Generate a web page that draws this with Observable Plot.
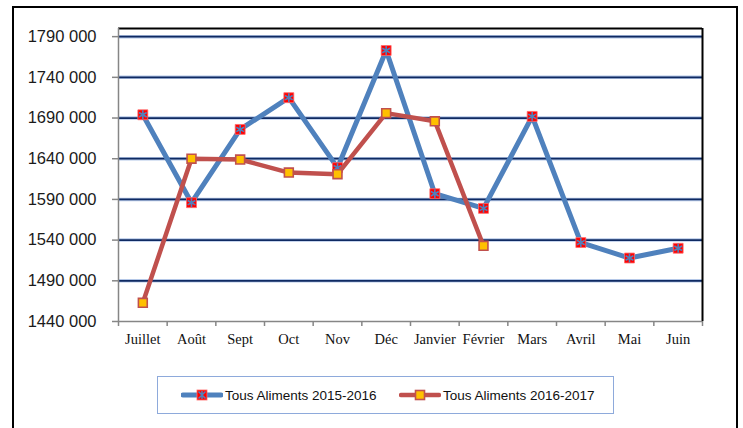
<!DOCTYPE html>
<html>
<head>
<meta charset="utf-8">
<script src="https://cdn.jsdelivr.net/npm/d3@7"></script>
<script src="https://cdn.jsdelivr.net/npm/@observablehq/plot@0.6"></script>
<style>
  html, body { margin: 0; padding: 0; background: #fff; }
  #wrap { position: relative; width: 743px; height: 428px; overflow: hidden; background: #fff; }
  #outer { position: absolute; left: 12px; top: 6px; width: 722px; height: 460px; border: 2px solid #000; box-sizing: content-box; pointer-events: none; }
  #chart { position: absolute; left: 0; top: 0; }
  #legend { position: absolute; left: 157px; top: 376px; width: 457px; height: 38px; border: 1px solid #8eaadb; box-sizing: border-box; font-family: "Liberation Sans", Arial, sans-serif; font-size: 13.5px; color: #111; }
  .item { position: absolute; top: 0; height: 36px; display: flex; align-items: center; }
  .item svg { display: block; }
  .item span { margin-left: 2px; white-space: nowrap; }
</style>
</head>
<body>
<div id="wrap">
  <div id="chart"></div>
  <div id="outer"></div>
  <div id="legend"></div>
</div>
<script>
// ---- data ----
const months = ["Juillet","Août","Sept","Oct","Nov","Déc","Janvier","Février","Mars","Avril","Mai","Juin"];
const series2015Name = "Tous Aliments 2015-2016";
const series2016Name = "Tous Aliments 2016-2017";
const values2015 = [1694000, 1586000, 1676000, 1715000, 1629000, 1773000, 1597000, 1579000, 1692000, 1537000, 1518000, 1530000];
const values2016 = [1463000, 1640000, 1639000, 1623000, 1621000, 1696000, 1686000, 1533000];
const yTicks = [1440000, 1490000, 1540000, 1590000, 1640000, 1690000, 1740000, 1790000];
const yTickLabels = ["1440 000", "1490 000", "1540 000", "1590 000", "1640 000", "1690 000", "1740 000", "1790 000"];
const yMin = 1440000, yMax = 1800000;

const data2015 = values2015.map((v, i) => ({month: months[i], value: v}));
const data2016 = values2016.map((v, i) => ({month: months[i], value: v}));
const gridTicks = yTicks.filter(t => t !== yMin);
const labelOf = v => yTickLabels[yTicks.indexOf(v)];

const W = 743, H = 428;
const mL = 118, mR = 41, mT = 28, mB = 107;
const step = (W - mL - mR) / months.length;

const blue = "#4f81bd", red = "#c0504d", grey = "#868686";

const plot = Plot.plot({
  width: W, height: H,
  marginLeft: mL, marginRight: mR, marginTop: mT, marginBottom: mB,
  style: {background: "transparent", overflow: "visible"},
  x: {type: "point", domain: months, padding: 0.5, round: false, axis: null, label: null},
  y: {domain: [yMin, yMax], axis: null, label: null},
  marks: [
    // gridlines
    Plot.ruleY(gridTicks, {stroke: "#b4c7e7", strokeWidth: 3.5}),
    Plot.ruleY(gridTicks, {stroke: "#0f2a62", strokeWidth: 1.8}),
    // frame: top & right
    Plot.ruleY([yMax], {stroke: "#000", strokeWidth: 2}),
    Plot.ruleX(["Juin"], {dx: step / 2, stroke: "#000", strokeWidth: 2}),
    // axes lines
    Plot.ruleX(["Juillet"], {dx: -step / 2, stroke: grey, strokeWidth: 1.5}),
    Plot.ruleY([yMin], {stroke: grey, strokeWidth: 1.5}),
    // y ticks & labels
    Plot.axisY({ticks: yTicks, tickSize: 6, tickFormat: () => "", label: null, stroke: grey, strokeWidth: 1.5}),
    Plot.axisY({ticks: yTicks, tickSize: 0, tickPadding: 22, tickFormat: labelOf, label: null, fill: "#1a1a1a",
      fontSize: 16.5, fontFamily: "'Liberation Sans', Arial, sans-serif"}),
    // x ticks at band boundaries & labels
    Plot.axisX({tickSize: 5, tickFormat: () => "", label: null, dx: -step / 2, stroke: grey, strokeWidth: 1.5}),
    Plot.axisX({ticks: ["Juin"], tickSize: 5, tickFormat: () => "", label: null, dx: step / 2, stroke: grey, strokeWidth: 1.5}),
    Plot.axisX({tickSize: 0, tickPadding: 12, label: null, fill: "#111", fontSize: 14.5,
      fontFamily: "'Liberation Serif', 'Times New Roman', serif"}),
    // series 2015-2016
    Plot.line(data2015, {x: "month", y: "value", stroke: blue, strokeWidth: 5, strokeLinejoin: "round", strokeLinecap: "round"}),
    Plot.dot(data2015, {x: "month", y: "value", symbol: "square", r: 5.6, fill: "#ff0000", stroke: "#ff6b6b", strokeWidth: 0.8}),
    Plot.dot(data2015, {x: "month", y: "value", symbol: "asterisk", r: 4.2, stroke: blue, strokeWidth: 1.6}),
    // series 2016-2017
    Plot.line(data2016, {x: "month", y: "value", stroke: red, strokeWidth: 4.5, strokeLinejoin: "round", strokeLinecap: "round"}),
    Plot.dot(data2016, {x: "month", y: "value", symbol: "square", r: 5, fill: "#ffc000", stroke: red, strokeWidth: 1.6})
  ]
});
document.getElementById("chart").appendChild(plot);

// legend
const legend = document.getElementById("legend");
function legendItem(left, name, kind) {
  const div = document.createElement("div");
  div.className = "item";
  div.style.left = left + "px";
  let marker;
  if (kind === "a") {
    marker = `<line x1="2" y1="10" x2="40" y2="10" stroke="${blue}" stroke-width="5" stroke-linecap="round"/>
      <rect x="16" y="5" width="10" height="10" fill="#ff0000" stroke="#ff6b6b" stroke-width="0.8"/>
      <path d="M17.5 6.5L24.5 13.5M24.5 6.5L17.5 13.5M21 6L21 14" stroke="${blue}" stroke-width="1.5"/>`;
  } else {
    marker = `<line x1="2" y1="10" x2="40" y2="10" stroke="${red}" stroke-width="4.5" stroke-linecap="round"/>
      <rect x="16.5" y="5.5" width="9" height="9" fill="#ffc000" stroke="${red}" stroke-width="1.6"/>`;
  }
  div.innerHTML = `<svg width="42" height="20">${marker}</svg><span>${name}</span>`;
  legend.appendChild(div);
}
legendItem(23, series2015Name, "a");
legendItem(241, series2016Name, "b");
</script>
</body>
</html>
